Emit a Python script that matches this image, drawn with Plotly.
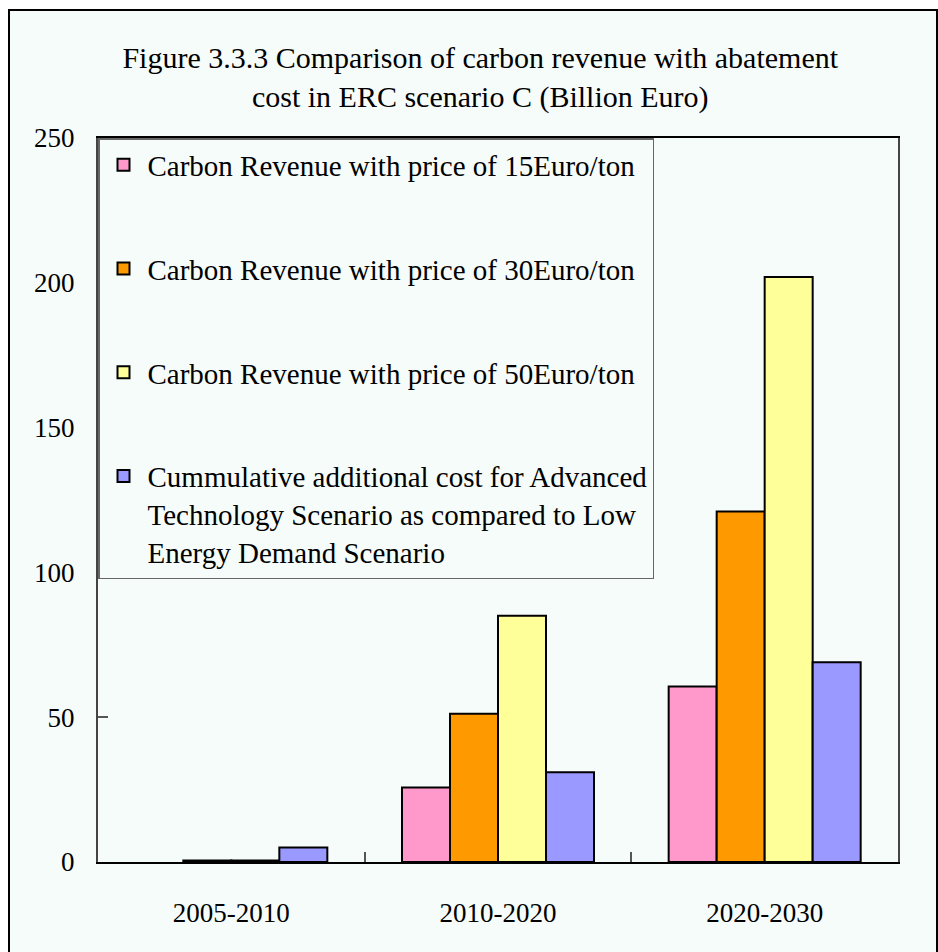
import plotly.graph_objects as go

categories = ["2005-2010", "2010-2020", "2020-2030"]
rev15 = [None, 25.7, 60.6]
rev30 = [0.5, 51.2, 121.0]
rev50 = [0.5, 85.0, 202.0]
add_cost = [5.0, 31.0, 69.0]

series_names = [
    "Carbon Revenue with price of 15Euro/ton",
    "Carbon Revenue with price of 30Euro/ton",
    "Carbon Revenue with price of 50Euro/ton",
    "Cummulative additional cost for Advanced<br>Technology Scenario as compared to Low<br>Energy Demand Scenario",
]
series_values = [rev15, rev30, rev50, add_cost]
colors = ["#FF99CC", "#FF9900", "#FFFF99", "#9999FF"]

BG = "#F6FCF9"
FONT = "Liberation Serif, Times New Roman, serif"

fig = go.Figure()
for i, (name, vals, col) in enumerate(zip(series_names, series_values, colors)):
    fig.add_trace(go.Bar(
        x=categories, y=vals, name=name, legendgroup=f"g{i}",
        marker=dict(color=col, line=dict(color="black", width=2)),
    ))

W, H = 938, 952
L, R, T, B = 98, 40, 138, 90
pw = W - L - R
ph = H - T - B

def px_x(x):
    return (x - L) / pw

def px_y(y):
    return (H - B - y) / ph

fig.add_shape(type="rect", xref="paper", yref="paper",
              x0=px_x(9), x1=px_x(937), y0=px_y(960), y1=px_y(10),
              fillcolor=BG, line=dict(color="black", width=2), layer="below")

fig.update_layout(
    width=W, height=H,
    margin=dict(l=L, r=R, t=T, b=B),
    paper_bgcolor="white",
    plot_bgcolor=BG,
    barmode="group",
    bargap=0.28,
    bargroupgap=0,
    font=dict(family=FONT, size=27, color="black"),
    title=dict(
        text="Figure 3.3.3 Comparison of carbon revenue with abatement<br>cost in ERC scenario C (Billion Euro)",
        x=0.512, xanchor="center", y=1 - 68 / H, yanchor="top",
        font=dict(family=FONT, size=30, color="black"),
    ),
    legend=dict(
        x=0, y=1, xanchor="left", yanchor="top",
        bgcolor=BG, bordercolor="#666666", borderwidth=1.5,
        font=dict(family=FONT, size=29, color="black"),
        tracegroupgap=63, traceorder="grouped", valign="top",
        itemwidth=38,
    ),
    xaxis=dict(
        showline=True, linecolor="black", linewidth=2, mirror=True,
        ticks="inside", ticklen=10, tickcolor="#555555", tickwidth=2,
        tickson="boundaries", ticklabelstandoff=26,
        tickfont=dict(family=FONT, size=27),
    ),
    yaxis=dict(
        range=[0, 250], dtick=50,
        showline=True, linecolor="#444444", linewidth=2, mirror=True,
        ticks="inside", ticklen=10, tickcolor="#555555", tickwidth=2,
        showgrid=False, zeroline=False, ticklabelstandoff=16,
        tickfont=dict(family=FONT, size=27),
    ),
)

fig.write_html("out.html")
